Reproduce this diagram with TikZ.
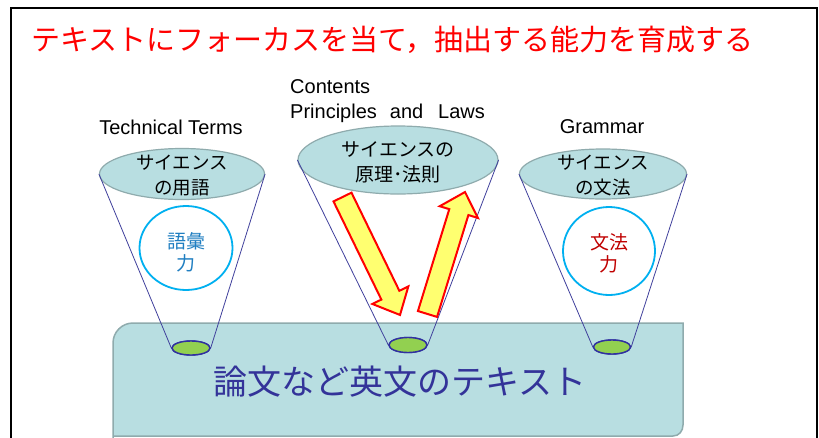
\documentclass[tikz,border=0pt]{standalone}
\usepackage{fontspec}
\setmainfont{Liberation Sans}
\newfontfamily\jp{Noto Sans CJK JP}
\usetikzlibrary{shapes.geometric}
\definecolor{boxfill}{HTML}{B8DEE1}
\definecolor{boxline}{HTML}{8FABAD}
\definecolor{conel}{HTML}{40409C}
\definecolor{greenf}{HTML}{92D050}
\definecolor{greenl}{HTML}{3030A0}
\definecolor{cyanl}{HTML}{00B0F0}
\definecolor{vocab}{HTML}{1F7EC1}
\definecolor{gramr}{HTML}{C00000}
\definecolor{navytx}{HTML}{333399}
\definecolor{arrowf}{HTML}{FFFF70}
\tikzset{
  topell/.style={ellipse, draw=boxline, line width=1.2pt, fill=boxfill, inner sep=0pt},
  greenell/.style={ellipse, draw=greenl, line width=1.4pt, fill=greenf, inner sep=0pt, minimum width=38pt, minimum height=14pt},
  ring/.style={ellipse, draw=cyanl, line width=1.8pt, inner sep=0pt, minimum width=92pt, minimum height=86pt},
  coneline/.style={draw=conel, line width=0.8pt},
  enlabel/.style={font=\fontsize{20}{26}\selectfont, inner sep=0pt},
  eltext/.style={font=\jp\fontsize{18.5}{25}\selectfont, align=center, inner sep=0pt},
  ringtext/.style={font=\jp\fontsize{19}{22}\selectfont, align=center, inner sep=0pt},
  bigarrow/.style={draw=red, line width=2pt, fill=arrowf, line join=miter}
}
\begin{document}
\begin{tikzpicture}[x=1pt,y=-1pt]
\useasboundingbox (0,0) rectangle (819,437);
\clip (0,0) rectangle (819,437);
\fill[white] (0,0) rectangle (819,437);
% frame
\draw[black, line width=2pt] (11,7.5) rectangle (817,470);
% title
\node[font=\jp\fontsize{29}{32}\selectfont, text=red, anchor=west, inner sep=0pt] (title) at (31,40) {テキストにフォーカスを当て，抽出する能力を育成する};
% big text box
\draw[fill=boxfill, draw=boxline, line width=1.5pt]
  (113,440) -- (113,343) .. controls (113,332) and (122,323) .. (133,323)
  -- (683,323) -- (683,425) .. controls (683,431) and (679,436) .. (673,436)
  -- (113,436);
\node[font=\jp\fontsize{34}{36}\selectfont, text=navytx, inner sep=0pt] (base) at (400,382) {論文など英文のテキスト};
% english labels
\node[enlabel] (tt) at (171,127) {Technical Terms};
\node[enlabel] (gr) at (602,127) {Grammar};
\node[enlabel, anchor=west] (co) at (290,87) {Contents};
\node[enlabel, anchor=west] (pl) at (290,113) {Principles\hspace{13pt}and\hspace{15pt}Laws};
% green ellipses (coordinates for cone ends)
\node[greenell] (g1) at (191,348) {};
\node[greenell, minimum height=15pt] (g2) at (408,345) {};
\node[greenell, minimum width=37pt] (g3) at (612,347) {};
% top ellipses
\node[topell, minimum width=165pt, minimum height=51pt] (e1) at (182,174) {};
\node[topell, minimum width=200pt, minimum height=68pt] (e2) at (398,160) {};
\node[topell, minimum width=167pt, minimum height=50pt] (e3) at (603,174) {};
% cone lines
\draw[coneline] (e1.west) -- (g1.west);
\draw[coneline] (e1.east) -- (g1.east);
\draw[coneline] (e2.west) -- (g2.west);
\draw[coneline] (e2.east) -- (g2.east);
\draw[coneline] (e3.west) -- (g3.west);
\draw[coneline] (e3.east) -- (g3.east);
% redraw green ellipses above lines
\node[greenell] at (g1) {};
\node[greenell, minimum height=15pt] at (g2) {};
\node[greenell, minimum width=37pt] at (g3) {};
% ellipse texts
\node[eltext] (t1) at (182,175.5) {サイエンス\\の用語};
\node[eltext, font=\jp\fontsize{19}{25}\selectfont] (t2) at (398,162.5) {サイエンスの\\原理･法則};
\node[eltext] (t3) at (603,175.5) {サイエンス\\の文法};
% circles
\node[ring, minimum width=93pt, minimum height=84pt] (c1) at (186,248) {};
\node[ring, minimum width=92pt, minimum height=88pt] (c3) at (609,251) {};
\node[ringtext, text=vocab] (ct1) at (186,252) {語彙\\力};
\node[ringtext, text=gramr] (ct3) at (609,253) {文法\\力};
% yellow arrows
\begin{scope}[shift={(371.25,256)}, rotate=-64]
  \draw[bigarrow] (-65.6,-10) -- (43.6,-10) -- (43.6,-20) -- (65.6,0) -- (43.6,20) -- (43.6,10) -- (-65.6,10) -- cycle;
\end{scope}
\begin{scope}[shift={(446.25,253)}, rotate=72.9]
  \draw[bigarrow] (-63.8,-10) -- (42.8,-10) -- (42.8,-20) -- (63.8,0) -- (42.8,20) -- (42.8,10) -- (-63.8,10) -- cycle;
\end{scope}
\end{tikzpicture}
\end{document}
